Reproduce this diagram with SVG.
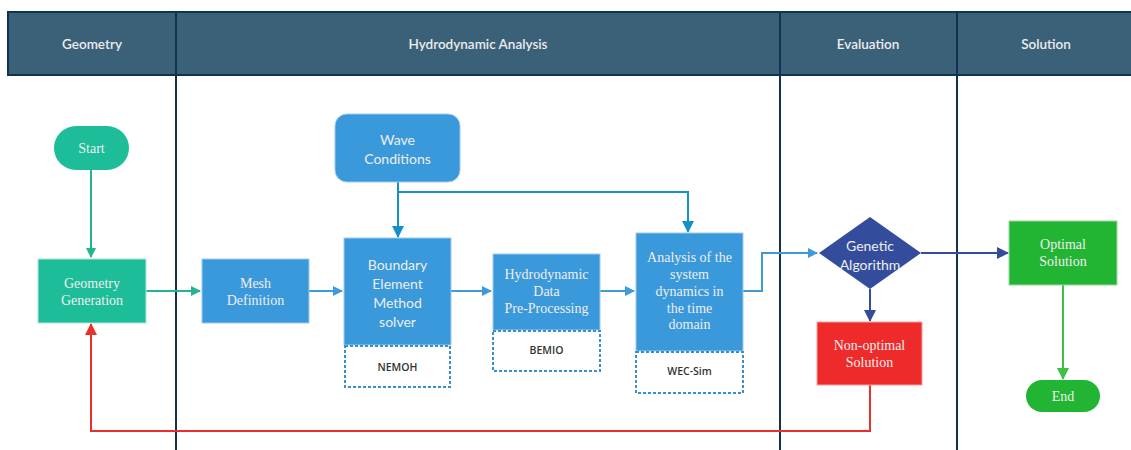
<svg xmlns="http://www.w3.org/2000/svg" width="1131" height="450" viewBox="0 0 1131 450">
<style>
.hdr{fill:#3b6179;stroke:#10344f;stroke-width:2}
.lane{stroke:#14324b;stroke-width:2}
.ht{font-family:Lato,"Liberation Sans",sans-serif;font-size:13.5px;font-weight:600;fill:#ececec;text-anchor:middle;dominant-baseline:central}
.sf{font-family:"Liberation Serif",serif;font-size:14px;fill:#eeeeee;text-anchor:middle;dominant-baseline:central}
.ss{font-family:Lato,"Liberation Sans",sans-serif;font-size:14px;fill:#eeeeee;text-anchor:middle;dominant-baseline:central}
.lb{font-family:"Open Sans","Liberation Sans",sans-serif;font-size:10.5px;font-weight:600;fill:#333;text-anchor:middle;dominant-baseline:central}
.blue{fill:#3a99db;stroke:#9ccbe9;stroke-width:1}
.dash{fill:#fff;stroke:#3a8fd0;stroke-width:2;stroke-dasharray:3 2}
.c{fill:none;stroke-width:2}
</style>
<defs>
<marker id="aT" markerWidth="10" markerHeight="10" refX="9" refY="5" orient="auto" markerUnits="userSpaceOnUse"><path d="M0,0 L10,5 L0,10 Z" fill="#22b594"/></marker>
<marker id="aB" markerWidth="10" markerHeight="10" refX="9" refY="5" orient="auto" markerUnits="userSpaceOnUse"><path d="M0,0 L10,5 L0,10 Z" fill="#3f9ad8"/></marker>
<marker id="aW" markerWidth="12" markerHeight="12" refX="11" refY="6" orient="auto" markerUnits="userSpaceOnUse"><path d="M0,0 L12,6 L0,12 Z" fill="#1690c9"/></marker>
<marker id="aD" markerWidth="12" markerHeight="12" refX="11" refY="6" orient="auto" markerUnits="userSpaceOnUse"><path d="M0,0 L12,6 L0,12 Z" fill="#334d9c"/></marker>
<marker id="aG" markerWidth="12" markerHeight="12" refX="11" refY="6" orient="auto" markerUnits="userSpaceOnUse"><path d="M0,0 L12,6 L0,12 Z" fill="#3fbf45"/></marker>
<marker id="aR" markerWidth="12" markerHeight="12" refX="11" refY="6" orient="auto" markerUnits="userSpaceOnUse"><path d="M0,0 L12,6 L0,12 Z" fill="#e8302c"/></marker>
</defs>
<rect width="1131" height="450" fill="#fff"/>
<g id="lanes">
<line class="lane" x1="176" y1="75" x2="176" y2="450"/>
<line class="lane" x1="780" y1="75" x2="780" y2="450"/>
<line class="lane" x1="957" y1="75" x2="957" y2="450"/>
<rect class="hdr" x="8" y="12" width="168" height="63"/>
<rect class="hdr" x="176" y="12" width="604" height="63"/>
<rect class="hdr" x="780" y="12" width="177" height="63"/>
<rect class="hdr" x="957" y="12" width="180" height="63"/>
<text class="ht" x="92" y="44">Geometry</text>
<text class="ht" x="478" y="44">Hydrodynamic Analysis</text>
<text class="ht" x="868" y="44">Evaluation</text>
<text class="ht" x="1046" y="44">Solution</text>
</g>
<g id="connectors">
<path class="c" stroke="#22b594" d="M91,170 V257" marker-end="url(#aT)"/>
<path class="c" stroke="#22b594" d="M146,291 H200" marker-end="url(#aT)"/>
<path class="c" stroke="#3f9ad8" d="M309,291 H342" marker-end="url(#aB)"/>
<path class="c" stroke="#3f9ad8" d="M451,291 H491" marker-end="url(#aB)"/>
<path class="c" stroke="#3f9ad8" d="M600,291 H634" marker-end="url(#aB)"/>
<path class="c" stroke="#1690c9" d="M398,182 V237" marker-end="url(#aW)"/>
<path class="c" stroke="#1690c9" d="M398,192 H688 V232" marker-end="url(#aW)"/>
<path class="c" stroke="#3f9ad8" d="M743,291 H762 V253 H817" marker-end="url(#aB)"/>
<path class="c" stroke="#334d9c" d="M870,289 V321" marker-end="url(#aD)"/>
<path class="c" stroke="#334d9c" d="M921,253 H1008" marker-end="url(#aD)"/>
<path class="c" stroke="#3fbf45" d="M1063,285 V379" marker-end="url(#aG)"/>
<path class="c" stroke="#e8302c" d="M870,385 V431 H91 V324" marker-end="url(#aR)"/>
</g>
<g id="start"><rect x="54" y="126" width="75" height="44" rx="22" fill="#1dbd9a"/><text class="sf" x="91.5" y="148">Start</text></g>
<g id="geometry-generation"><rect x="38" y="259" width="108" height="64" fill="#1dbd9a" stroke="#b5e3d8"/><text class="sf" x="92" y="283">Geometry</text><text class="sf" x="92" y="300">Generation</text></g>
<g id="mesh-definition"><rect class="blue" x="202" y="259" width="107" height="64"/><text class="sf" x="255.5" y="283">Mesh</text><text class="sf" x="255.5" y="300">Definition</text></g>
<g id="wave-conditions"><rect x="335" y="114" width="125" height="68" rx="12" fill="#3a99db" stroke="#9ccbe9"/><text class="ss" x="397.5" y="139">Wave</text><text class="ss" x="397.5" y="158">Conditions</text></g>
<g id="bem-solver"><rect class="blue" x="344" y="238" width="107" height="107"/><text class="ss" x="397.5" y="264">Boundary</text><text class="ss" x="397.5" y="283">Element</text><text class="ss" x="397.5" y="302">Method</text><text class="ss" x="397.5" y="321">solver</text>
<rect class="dash" x="345" y="346" width="105" height="41"/><text class="lb" x="397.5" y="367">NEMOH</text></g>
<g id="hydro-preprocessing"><rect class="blue" x="493" y="254" width="107" height="76"/><text class="sf" x="546.5" y="274">Hydrodynamic</text><text class="sf" x="546.5" y="291">Data</text><text class="sf" x="546.5" y="308">Pre-Processing</text>
<rect class="dash" x="493" y="331" width="107" height="40"/><text class="lb" x="546.5" y="350">BEMIO</text></g>
<g id="time-domain-analysis"><rect class="blue" x="636" y="233" width="107" height="118"/><text class="sf" x="689.5" y="257">Analysis of the</text><text class="sf" x="689.5" y="274">system</text><text class="sf" x="689.5" y="291">dynamics in</text><text class="sf" x="689.5" y="308">the time</text><text class="sf" x="689.5" y="324">domain</text>
<rect class="dash" x="636" y="352" width="107" height="41"/><text class="lb" x="689.5" y="371">WEC-Sim</text></g>
<g id="genetic-algorithm"><path d="M870,217 L921,253 L870,289 L819,253 Z" fill="#334d9c"/><text class="ss" x="870" y="245">Genetic</text><text class="ss" x="870" y="264">Algorithm</text></g>
<g id="non-optimal-solution"><rect x="817" y="322" width="105" height="63" fill="#ee2a2a" stroke="#f3a0a0"/><text class="sf" x="869.5" y="345">Non-optimal</text><text class="sf" x="869.5" y="362">Solution</text></g>
<g id="optimal-solution"><rect x="1009" y="221" width="108" height="64" fill="#22b533" stroke="#9ad9a0"/><text class="sf" x="1063" y="244">Optimal</text><text class="sf" x="1063" y="261">Solution</text></g>
<g id="end"><rect x="1026" y="380" width="74" height="32" rx="16" fill="#22b533"/><text class="sf" x="1063" y="396">End</text></g>
</svg>
